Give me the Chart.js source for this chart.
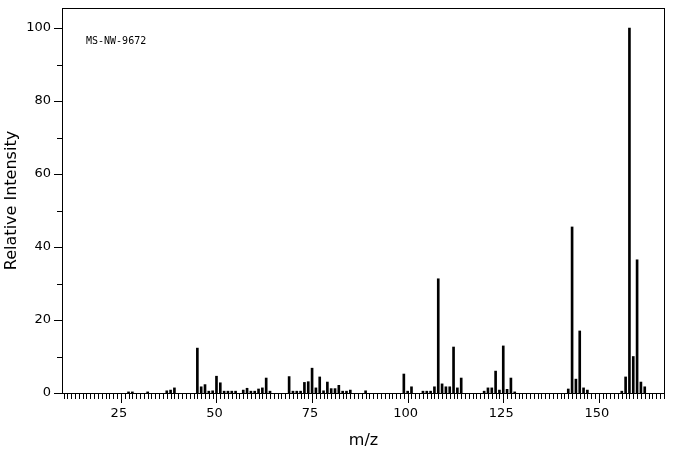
<!DOCTYPE html>
<html><head><meta charset="utf-8">
<script src="https://cdn.jsdelivr.net/npm/chart.js@4"></script>
<style>html,body{margin:0;background:#fff}#w{width:676px;height:455px}</style>
</head><body><div id="w"><canvas id="c"></canvas></div>
<script>
const mz = [27,28,32,37,38,39,45,46,47,48,49,50,51,52,53,54,55,57,58,59,60,61,62,63,64,69,70,71,72,73,74,75,76,77,78,79,80,81,82,83,84,85,89,99,100,101,104,105,106,107,108,109,110,111,112,113,114,120,121,122,123,124,125,126,127,128,142,143,144,145,146,147,156,157,158,159,160,161,162];
const intensity = [0.3,0.3,0.3,0.6,0.8,1.4,12.3,1.7,2.3,0.5,0.6,4.6,2.8,0.5,0.5,0.5,0.5,0.8,1.3,0.5,0.5,1.1,1.4,4.1,0.5,4.5,0.5,0.5,0.5,2.9,3.1,6.8,1.4,4.4,0.6,3.0,1.2,1.2,2.1,0.5,0.5,0.8,0.6,5.2,0.5,1.7,0.5,0.5,0.5,1.7,31.3,2.5,1.7,1.7,12.6,1.4,4.1,0.5,1.4,1.4,6.0,0.8,12.9,1.0,4.1,0.3,1.1,45.5,3.8,17.0,1.4,0.8,0.5,4.4,100,10.0,36.5,3.0,1.7];
const xTickLabels = [25,50,75,100,125,150];
const yTickLabels = [0,20,40,60,80,100];
const specId = 'MS-NW-9672';

const deco = {
  id:'deco',
  afterDraw(ch){
    const c=ch.ctx, a=ch.chartArea, xs=ch.scales.x, ys=ch.scales.y;
    c.save();
    c.strokeStyle='#000'; c.lineWidth=1; c.fillStyle='#000';
    c.strokeRect(a.left+0.5,a.top+0.5,a.right-a.left-1,a.bottom-a.top);
    c.beginPath();
    for(let v=10;v<=167;v++){
      const px=Math.round(xs.getPixelForValue(v))+0.5;
      const len = v%25===0?10:6;
      c.moveTo(px,a.bottom); c.lineTo(px,a.bottom+len);
    }
    for(let v=0;v<=100;v+=10){
      const py=Math.round(ys.getPixelForValue(v))+0.5;
      const len = v%20===0?8:5;
      c.moveTo(a.left,py); c.lineTo(a.left-len,py);
    }
    c.stroke();
    c.font='13px "DejaVu Sans"';
    c.textAlign='center'; c.textBaseline='top';
    xTickLabels.forEach(v=>c.fillText(String(v),xs.getPixelForValue(v)-2,a.bottom+14));
    c.textAlign='right'; c.textBaseline='middle';
    yTickLabels.forEach(v=>c.fillText(String(v),a.left-11,ys.getPixelForValue(v)));
    c.font='16px "DejaVu Sans"';
    c.textAlign='center'; c.textBaseline='middle';
    c.fillText('m/z',(a.left+a.right)/2,441);
    c.translate(12,(a.top+a.bottom)/2); c.rotate(-Math.PI/2);
    c.fillText('Relative Intensity',0,0);
    c.restore();
    c.save();
    c.font='10px "DejaVu Sans Mono"'; c.textAlign='left'; c.textBaseline='middle';
    c.fillText(specId,86,41);
    c.restore();
  }
};

new Chart(document.getElementById('c'),{
  type:'bar',
  data:{datasets:[{data:mz.map((m,i)=>({x:m,y:intensity[i]})),backgroundColor:'#000',barThickness:2,borderWidth:0}]},
  options:{
    responsive:true, maintainAspectRatio:false, animation:false,
    layout:{padding:{left:62,right:11,top:8,bottom:62}},
    plugins:{legend:{display:false},tooltip:{enabled:false}},
    scales:{
      x:{type:'linear',min:9.6,max:167.3,offset:false,display:false},
      y:{min:0,max:105.5,display:false}
    }
  },
  plugins:[deco]
});
</script></body></html>
